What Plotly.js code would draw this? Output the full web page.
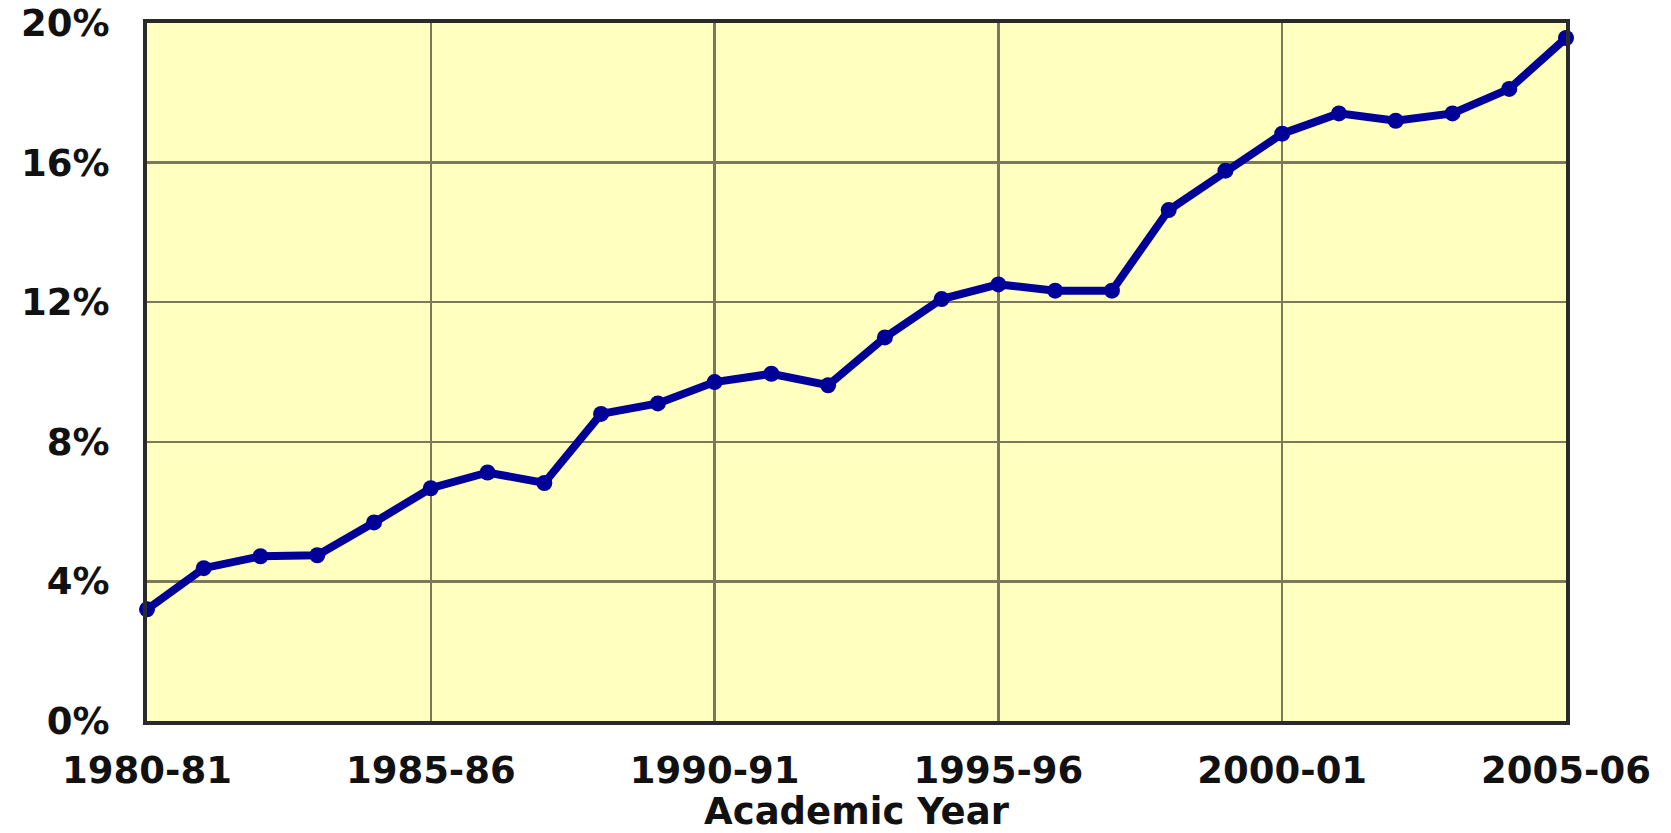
<!DOCTYPE html>
<html>
<head>
<meta charset="utf-8">
<script src="https://cdn.plot.ly/plotly-3.0.1.min.js"></script>
<style>html,body{margin:0;padding:0;background:#fff;}#chart{width:1671px;height:833px;}</style>
</head>
<body>
<div id="chart"></div>
<script>
const years = ["1980-81","1981-82","1982-83","1983-84","1984-85","1985-86","1986-87","1987-88","1988-89","1989-90","1990-91","1991-92","1992-93","1993-94","1994-95","1995-96","1996-97","1997-98","1998-99","1999-00","2000-01","2001-02","2002-03","2003-04","2004-05","2005-06"];
const shares = [3.2,4.38,4.72,4.75,5.69,6.67,7.12,6.82,8.80,9.10,9.71,9.95,9.62,10.99,12.09,12.51,12.33,12.33,14.64,15.77,16.83,17.41,17.20,17.41,18.11,19.57];
const xTickLabels = ["1980-81","1985-86","1990-91","1995-96","2000-01","2005-06"];
const yTickVals = [0,4,8,12,16,20];
const yTickLabels = ["0%","4%","8%","12%","16%","20%"];

const font = {family: "DejaVu Sans, Verdana, sans-serif", size: 37, color: "#111", weight: "bold"};

Plotly.newPlot("chart", [{
  x: years,
  y: shares,
  type: "scatter",
  mode: "lines+markers",
  line: {color: "#000099", width: 8},
  marker: {color: "#000099", size: 16},
  cliponaxis: false,
  hoverinfo: "skip"
}], {
  width: 1671, height: 833,
  margin: {l: 147, r: 105, t: 23, b: 112},
  paper_bgcolor: "#ffffff",
  plot_bgcolor: "#ffffc0",
  showlegend: false,
  xaxis: {
    type: "category",
    range: [0, years.length - 1],
    tickmode: "array",
    tickvals: xTickLabels,
    ticktext: xTickLabels,
    ticks: "",
    showgrid: true,
    gridcolor: "#7a7a5a",
    gridwidth: 2.5,
    showline: true, mirror: true, linecolor: "#2a2a2a", linewidth: 4,
    zeroline: false,
    tickfont: font,
    ticklabelstandoff: 14,
    title: {text: "Academic Year", font: font, standoff: 22}
  },
  yaxis: {
    range: [0, 20],
    tickmode: "array",
    tickvals: yTickVals,
    ticktext: yTickLabels,
    ticks: "",
    showgrid: true,
    gridcolor: "#7a7a5a",
    gridwidth: 2.5,
    showline: true, mirror: true, linecolor: "#2a2a2a", linewidth: 4,
    zeroline: false,
    tickfont: font,
    ticklabelstandoff: 26
  }
}, {staticPlot: true});
</script>
</body>
</html>
